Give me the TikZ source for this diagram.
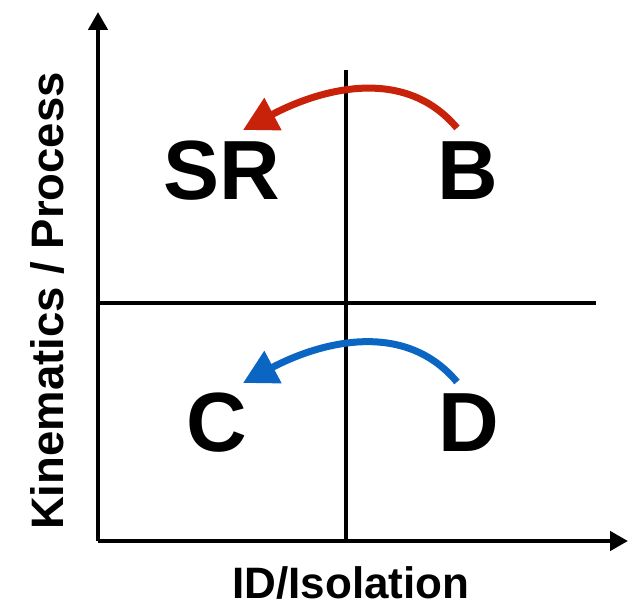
\documentclass[tikz,border=0pt]{standalone}
\usepackage{fontspec}
\setmainfont{Liberation Sans}
\usetikzlibrary{arrows.meta}
\definecolor{shiftred}{RGB}{200,34,10}
\definecolor{shiftblue}{RGB}{10,102,194}

\begin{document}
\begin{tikzpicture}[x=1pt,y=-1pt,axis/.style={line width=4.8pt,-{Triangle[length=18pt,width=19pt]}},divider/.style={line width=4.6pt},region/.style={font=\bfseries\fontsize{84}{90}\selectfont,anchor=base,inner sep=0pt},axislabel/.style={font=\bfseries\fontsize{44}{50}\selectfont,anchor=base,inner sep=0pt},shiftarc/.style={line width=7pt,-{Triangle[length=34pt,width=35pt]}}]
\useasboundingbox (0,0) rectangle (640,609);
\coordinate (origin) at (98,541);
\coordinate (ytip) at (98,12);
\coordinate (xtip) at (628,541);
\coordinate (vtop) at (346,70);
\coordinate (vbot) at (346,541);
\coordinate (hleft) at (98,303);
\coordinate (hright) at (596,303);
\node[region] (SR) at (222,200) {SR};
\node[region] (B) at (468,200) {B};
\node[region] (C) at (217,451) {C};
\node[region] (D) at (469,451) {D};
\node[axislabel] (xlab) at (351,598) {ID/Isolation};
\node[axislabel,rotate=90,font=\bfseries\fontsize{45.5}{50}\selectfont] (ylab) at (63,301) {Kinematics / Process};
\draw[divider] (vtop)--(vbot); \draw[divider] (hleft)--(hright);
\draw[axis] (origin)--(ytip); \draw[axis] (origin)--(xtip);
\coordinate (redfrom) at (457,128); \coordinate (redto) at (243,130);
\coordinate (bluefrom) at (457,382); \coordinate (blueto) at (243,383);
\draw[shiftarc,draw=shiftred] (redfrom) to[out=130,in=28] (redto);
\draw[shiftarc,draw=shiftblue] (bluefrom) to[out=130,in=28] (blueto);
\end{tikzpicture}
\end{document}
